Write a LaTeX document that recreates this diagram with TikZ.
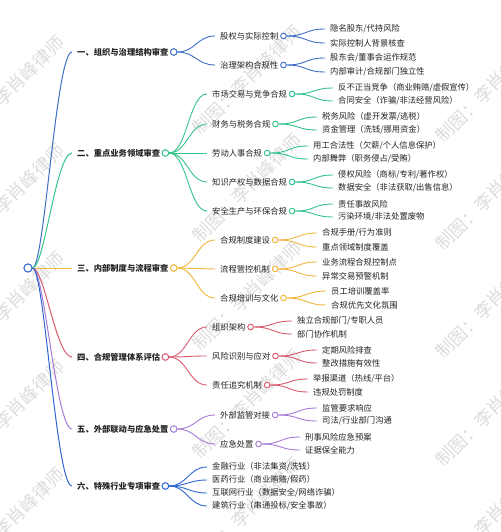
\documentclass[tikz,border=0pt]{standalone}
\usepackage{fontspec}
\setmainfont{Noto Sans CJK SC}
\definecolor{cA}{HTML}{3F6EC6}
\definecolor{cB}{HTML}{34C38A}
\definecolor{cC}{HTML}{F0B43A}
\definecolor{cD}{HTML}{D95A6E}
\definecolor{cE}{HTML}{A57BD6}
\definecolor{cF}{HTML}{2D66D3}
\definecolor{wmc}{HTML}{DCDCDC}
\definecolor{txt}{HTML}{222222}
\tikzset{
  lone/.style={font=\fontsize{8.3}{10}\selectfont\bfseries, anchor=west, inner xsep=5pt, inner ysep=1pt, text=txt},
  ltwo/.style={font=\fontsize{8.3}{10}\selectfont, anchor=west, inner xsep=5pt, inner ysep=1pt, text=txt},
  dotone/.style={circle, draw=#1, fill=white, line width=0.9pt, minimum size=6.5pt, inner sep=0pt},
  dottwo/.style={circle, draw=#1, fill=white, line width=0.8pt, minimum size=5.5pt, inner sep=0pt},
  lk/.style={draw=#1, line width=0.9pt},
  sc/.style={to path={.. controls +(#1,0) and +(-#1,0) .. (\tikztotarget)}},
  sc/.default=20,
  wmark/.style={font=\fontsize{18}{20}\selectfont, text=wmc, rotate=45}
}
\begin{document}
\begin{tikzpicture}[x=1pt,y=-1pt]
\path[use as bounding box] (0,0) rectangle (500,532);
% watermarks
\node[wmark] (w1) at (10,90) {制图：李肖峰律师};
\node[wmark] (w2) at (10,198) {制图：李肖峰律师};
\node[wmark] (w3) at (10,306) {制图：李肖峰律师};
\node[wmark] (w4) at (10,414) {制图：李肖峰律师};
\node[wmark] (w5) at (10,522) {制图：李肖峰律师};
\node[wmark] (w6) at (247,80) {制图：李肖峰律师};
\node[wmark] (w7) at (247,188) {制图：李肖峰律师};
\node[wmark] (w8) at (247,296) {制图：李肖峰律师};
\node[wmark] (w9) at (247,404) {制图：李肖峰律师};
\node[wmark] (w10) at (247,512) {制图：李肖峰律师};
\node[wmark] (w11) at (490,88) {制图：李肖峰律师};
\node[wmark] (w12) at (490,196) {制图：李肖峰律师};
\node[wmark] (w13) at (490,304) {制图：李肖峰律师};
\node[wmark] (w14) at (490,412) {制图：李肖峰律师};
\node[wmark] (w15) at (490,520) {制图：李肖峰律师};

% root
\node[circle, draw=cA, fill=white, line width=1pt, minimum size=8pt, inner sep=0pt] (r) at (28,268) {};

% level 1
\node[lone] (a1) at (72,52) {一、组织与治理结构审查};
\node[lone] (a2) at (72,153) {二、重点业务领域审查};
\node[lone] (a3) at (72,268) {三、内部制度与流程审查};
\node[lone] (a4) at (72,357) {四、合规管理体系评估};
\node[lone] (a5) at (72,429) {五、外部联动与应急处置};
\node[lone] (a6) at (72,486) {六、特殊行业专项审查};
\node[dotone=cA] (a1c) at (a1.east) {};
\node[dotone=cB] (a2c) at (a2.east) {};
\node[dotone=cC] (a3c) at (a3.east) {};
\node[dotone=cD] (a4c) at (a4.east) {};
\node[dotone=cE] (a5c) at (a5.east) {};
\node[dotone=cF] (a6c) at (a6.east) {};

% level 2
\node[ltwo] (b11) at (215,36) {股权与实际控制};
\node[ltwo] (b12) at (215,65) {治理架构合规性};
\node[ltwo] (b21) at (207,94) {市场交易与竞争合规};
\node[ltwo] (b22) at (207,124) {财务与税务合规};
\node[ltwo] (b23) at (207,153) {劳动人事合规};
\node[ltwo] (b24) at (207,182) {知识产权与数据合规};
\node[ltwo] (b25) at (207,211) {安全生产与环保合规};
\node[ltwo] (b31) at (215,240) {合规制度建设};
\node[ltwo] (b32) at (215,269) {流程管控机制};
\node[ltwo] (b33) at (215,298) {合规培训与文化};
\node[ltwo] (b41) at (207,327) {组织架构};
\node[ltwo] (b42) at (207,356) {风险识别与应对};
\node[ltwo] (b43) at (207,385) {责任追究机制};
\node[ltwo] (b51) at (215,415) {外部监管对接};
\node[ltwo] (b52) at (215,444) {应急处置};
\node[ltwo] (b61) at (207,467) {金融行业（非法集资/洗钱）};
\node[ltwo] (b62) at (207,480) {医药行业（商业贿赂/假药）};
\node[ltwo] (b63) at (207,493) {互联网行业（数据安全/网络诈骗）};
\node[ltwo] (b64) at (207,506) {建筑行业（串通投标/安全事故）};

\node[dottwo=cA] (b11c) at (b11.east) {};
\node[dottwo=cA] (b12c) at (b12.east) {};
\node[dottwo=cB] (b21c) at (b21.east) {};
\node[dottwo=cB] (b22c) at (b22.east) {};
\node[dottwo=cB] (b23c) at (b23.east) {};
\node[dottwo=cB] (b24c) at (b24.east) {};
\node[dottwo=cB] (b25c) at (b25.east) {};
\node[dottwo=cC] (b31c) at (b31.east) {};
\node[dottwo=cC] (b32c) at (b32.east) {};
\node[dottwo=cC] (b33c) at (b33.east) {};
\node[dottwo=cD] (b41c) at (b41.east) {};
\node[dottwo=cD] (b42c) at (b42.east) {};
\node[dottwo=cD] (b43c) at (b43.east) {};
\node[dottwo=cE] (b51c) at (b51.east) {};
\node[dottwo=cE] (b52c) at (b52.east) {};

% level 3
\node[ltwo] (c1) at (325,29) {隐名股东/代持风险};
\node[ltwo] (c2) at (325,43) {实际控制人背景核查};
\node[ltwo] (c3) at (325,58) {股东会/董事会运作规范};
\node[ltwo] (c4) at (325,72) {内部审计/合规部门独立性};
\node[ltwo] (c5) at (333,88) {反不正当竞争（商业贿赂/虚假宣传）};
\node[ltwo] (c6) at (333,101) {合同安全（诈骗/非法经营风险）};
\node[ltwo] (c7) at (317,117) {税务风险（虚开发票/逃税）};
\node[ltwo] (c8) at (317,130) {资金管理（洗钱/挪用资金）};
\node[ltwo] (c9) at (308,146) {用工合法性（欠薪/个人信息保护）};
\node[ltwo] (c10) at (308,159) {内部舞弊（职务侵占/受贿）};
\node[ltwo] (c11) at (333,175) {侵权风险（商标/专利/著作权）};
\node[ltwo] (c12) at (333,188) {数据安全（非法获取/出售信息）};
\node[ltwo] (c13) at (333,204) {责任事故风险};
\node[ltwo] (c14) at (333,217) {污染环境/非法处置废物};
\node[ltwo] (c15) at (317,233) {合规手册/行为准则};
\node[ltwo] (c16) at (317,247) {重点领域制度覆盖};
\node[ltwo] (c17) at (317,262) {业务流程合规控制点};
\node[ltwo] (c18) at (317,276) {异常交易预警机制};
\node[ltwo] (c19) at (326,291) {员工培训覆盖率};
\node[ltwo] (c20) at (326,305) {合规优先文化氛围};
\node[ltwo] (c21) at (292,321) {独立合规部门/专职人员};
\node[ltwo] (c22) at (292,334) {部门协作机制};
\node[ltwo] (c23) at (317,350) {定期风险排查};
\node[ltwo] (c24) at (317,363) {整改措施有效性};
\node[ltwo] (c25) at (308,379) {举报渠道（热线/平台）};
\node[ltwo] (c26) at (308,392) {违规处罚制度};
\node[ltwo] (c27) at (317,408) {监管要求响应};
\node[ltwo] (c28) at (317,421) {司法/行业部门沟通};
\node[ltwo] (c29) at (300,437) {刑事风险应急预案};
\node[ltwo] (c30) at (300,450) {证据保全能力};

% root connectors
\begin{scope}[on background layer/.try]
\end{scope}
\draw[lk=cA, line width=1pt] (r.east) .. controls +(12,0) and +(-16,0) .. (a1.west);
\draw[lk=cB, line width=1pt] (r.east) .. controls +(12,0) and +(-16,0) .. (a2.west);
\draw[lk=cC, line width=1pt] (r.east) -- (a3.west);
\draw[lk=cD, line width=1pt] (r.east) .. controls +(12,0) and +(-16,0) .. (a4.west);
\draw[lk=cE, line width=1pt] (r.east) .. controls +(12,0) and +(-16,0) .. (a5.west);
\draw[lk=cF, line width=1pt] (r.east) .. controls +(12,0) and +(-16,0) .. (a6.west);

% level 1 -> 2
\draw[lk=cA] (a1c.east) to[sc=18] (b11.west);
\draw[lk=cA] (a1c.east) to[sc=18] (b12.west);
\draw[lk=cB] (a2c.east) to[sc=18] (b21.west);
\draw[lk=cB] (a2c.east) to[sc=18] (b22.west);
\draw[lk=cB] (a2c.east) to[sc=18] (b23.west);
\draw[lk=cB] (a2c.east) to[sc=18] (b24.west);
\draw[lk=cB] (a2c.east) to[sc=18] (b25.west);
\draw[lk=cC] (a3c.east) to[sc=18] (b31.west);
\draw[lk=cC] (a3c.east) to[sc=18] (b32.west);
\draw[lk=cC] (a3c.east) to[sc=18] (b33.west);
\draw[lk=cD] (a4c.east) to[sc=18] (b41.west);
\draw[lk=cD] (a4c.east) to[sc=18] (b42.west);
\draw[lk=cD] (a4c.east) to[sc=18] (b43.west);
\draw[lk=cE] (a5c.east) to[sc=18] (b51.west);
\draw[lk=cE] (a5c.east) to[sc=18] (b52.west);
\draw[lk=cF] (a6c.east) to[sc=18] (b61.west);
\draw[lk=cF] (a6c.east) to[sc=18] (b62.west);
\draw[lk=cF] (a6c.east) to[sc=18] (b63.west);
\draw[lk=cF] (a6c.east) to[sc=18] (b64.west);

% level 2 -> 3
\draw[lk=cA] (b11c.east) to[sc] (c1.west);
\draw[lk=cA] (b11c.east) to[sc] (c2.west);
\draw[lk=cA] (b12c.east) to[sc] (c3.west);
\draw[lk=cA] (b12c.east) to[sc] (c4.west);
\draw[lk=cB] (b21c.east) to[sc] (c5.west);
\draw[lk=cB] (b21c.east) to[sc] (c6.west);
\draw[lk=cB] (b22c.east) to[sc] (c7.west);
\draw[lk=cB] (b22c.east) to[sc] (c8.west);
\draw[lk=cB] (b23c.east) to[sc] (c9.west);
\draw[lk=cB] (b23c.east) to[sc] (c10.west);
\draw[lk=cB] (b24c.east) to[sc] (c11.west);
\draw[lk=cB] (b24c.east) to[sc] (c12.west);
\draw[lk=cB] (b25c.east) to[sc] (c13.west);
\draw[lk=cB] (b25c.east) to[sc] (c14.west);
\draw[lk=cC] (b31c.east) to[sc] (c15.west);
\draw[lk=cC] (b31c.east) to[sc] (c16.west);
\draw[lk=cC] (b32c.east) to[sc] (c17.west);
\draw[lk=cC] (b32c.east) to[sc] (c18.west);
\draw[lk=cC] (b33c.east) to[sc] (c19.west);
\draw[lk=cC] (b33c.east) to[sc] (c20.west);
\draw[lk=cD] (b41c.east) to[sc] (c21.west);
\draw[lk=cD] (b41c.east) to[sc] (c22.west);
\draw[lk=cD] (b42c.east) to[sc] (c23.west);
\draw[lk=cD] (b42c.east) to[sc] (c24.west);
\draw[lk=cD] (b43c.east) to[sc] (c25.west);
\draw[lk=cD] (b43c.east) to[sc] (c26.west);
\draw[lk=cE] (b51c.east) to[sc] (c27.west);
\draw[lk=cE] (b51c.east) to[sc] (c28.west);
\draw[lk=cE] (b52c.east) to[sc] (c29.west);
\draw[lk=cE] (b52c.east) to[sc] (c30.west);

% redraw circles on top of connectors
\node[circle, draw=cA, fill=white, line width=1pt, minimum size=8pt, inner sep=0pt] at (r) {};
\foreach \n/\c in {a1c/cA,a2c/cB,a3c/cC,a4c/cD,a5c/cE,a6c/cF}{\node[dotone=\c] at (\n) {};}
\foreach \n/\c in {b11c/cA,b12c/cA,b21c/cB,b22c/cB,b23c/cB,b24c/cB,b25c/cB,b31c/cC,b32c/cC,b33c/cC,b41c/cD,b42c/cD,b43c/cD,b51c/cE,b52c/cE}{\node[dottwo=\c] at (\n) {};}
\end{tikzpicture}
\end{document}
